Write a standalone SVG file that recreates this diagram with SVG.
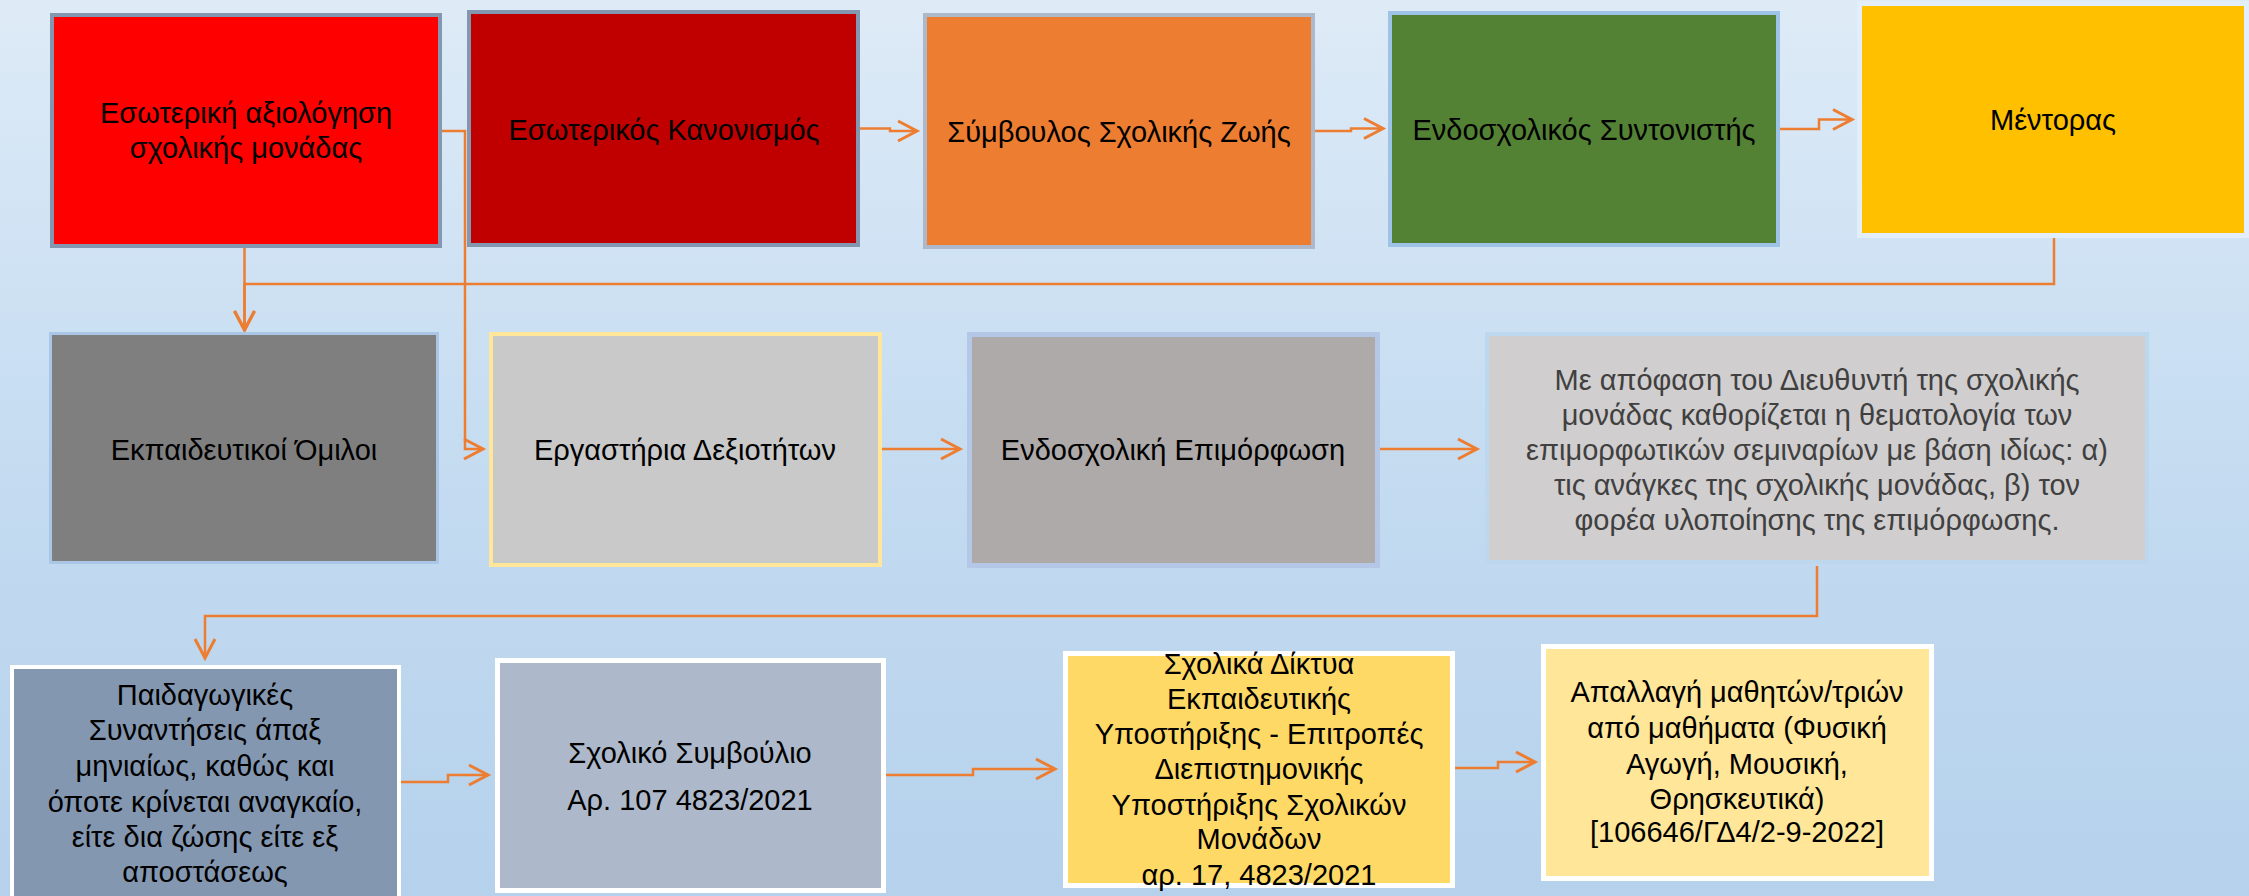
<svg xmlns="http://www.w3.org/2000/svg" width="2249" height="896" viewBox="0 0 2249 896">
<defs>
<linearGradient id="bg" x1="0" y1="0" x2="0" y2="1">
<stop offset="0" stop-color="#DEEBF7"/>
<stop offset="0.5" stop-color="#C5DCF1"/>
<stop offset="1" stop-color="#B5D1EC"/>
</linearGradient>
<marker id="ah" markerUnits="userSpaceOnUse" viewBox="-22 -12 24 24" markerWidth="24" markerHeight="24" refX="0" refY="0" orient="auto" overflow="visible">
<path d="M-19,-10 L0,0 L-19,10" fill="none" stroke="#ED7D31" stroke-width="3"/>
</marker>
</defs>
<style>
text{font-family:"Liberation Sans",Arial,sans-serif;font-size:29px;fill:#000;text-anchor:middle}
.g{fill:#404040}
.c{fill:none;stroke:#ED7D31;stroke-width:2.5;marker-end:url(#ah)}
.n{stroke-width:4}
</style>
<rect x="0" y="0" width="2249" height="896" fill="url(#bg)"/>

<g id="connectors">
<path class="c" d="M442,131 H465 V449 H483"/>
<path class="c" d="M244.5,248 V330"/>
<path class="c" d="M2054,238 V284 H244.5 V330"/>
<path class="c" d="M860,128.5 H890 V131 H917"/>
<path class="c" d="M1315,131 H1351 V128.5 H1383"/>
<path class="c" d="M1780,129 H1819 V119.5 H1852"/>
<path class="c" d="M882,449 H960"/>
<path class="c" d="M1380,449 H1477"/>
<path class="c" d="M1817,566 V616 H205 V658"/>
<path class="c" d="M401,782 H448 V775 H488"/>
<path class="c" d="M886,775 H973 V769 H1055"/>
<path class="c" d="M1455,768 H1498 V762 H1535"/>
</g>

<g id="n1">
<rect class="n" x="52" y="15" width="388" height="231" fill="#FF0000" stroke="#8497B0"/>
<text x="246" y="123">Εσωτερική αξιολόγηση</text>
<text x="246" y="158">σχολικής μονάδας</text>
</g>
<g id="n2">
<rect class="n" x="469" y="12" width="389" height="233" fill="#C00000" stroke="#8497B0"/>
<text x="664" y="140">Εσωτερικός Κανονισμός</text>
</g>
<g id="n3">
<rect class="n" x="925" y="15" width="388" height="232" fill="#ED7D31" stroke="#ADB9CA"/>
<text x="1119" y="142">Σύμβουλος Σχολικής Ζωής</text>
</g>
<g id="n4">
<rect class="n" x="1390" y="13" width="388" height="232" fill="#548235" stroke="#9DC3E6"/>
<text x="1584" y="140">Ενδοσχολικός Συντονιστής</text>
</g>
<g id="n5">
<rect x="1859.5" y="3.5" width="387" height="232" fill="#FFC000" stroke="#E2EEF9" stroke-width="5"/>
<text x="2053" y="130">Μέντορας</text>
</g>

<g id="n6">
<rect x="50.5" y="333.5" width="387" height="229" fill="#7F7F7F" stroke="#A9C6E6" stroke-width="3"/>
<text x="244" y="460">Εκπαιδευτικοί Όμιλοι</text>
</g>
<g id="n7">
<rect class="n" x="491" y="334" width="389" height="231" fill="#C9C9C9" stroke="#FFE699"/>
<text x="685" y="460">Εργαστήρια Δεξιοτήτων</text>
</g>
<g id="n8">
<rect x="969.5" y="334.5" width="408" height="231" fill="#AEAAAA" stroke="#B4C7E7" stroke-width="5"/>
<text x="1173" y="460">Ενδοσχολική Επιμόρφωση</text>
</g>
<g id="n9">
<rect class="n" x="1487" y="334" width="660" height="228" fill="#D0CECE" stroke="#BDD7EE"/>
<text class="g" x="1817" y="390">Με απόφαση του Διευθυντή της σχολικής</text>
<text class="g" x="1817" y="425">μονάδας καθορίζεται η θεματολογία των</text>
<text class="g" x="1817" y="460">επιμορφωτικών σεμιναρίων με βάση ιδίως: α)</text>
<text class="g" x="1817" y="495">τις ανάγκες της σχολικής μονάδας, β) τον</text>
<text class="g" x="1817" y="530">φορέα υλοποίησης της επιμόρφωσης.</text>
</g>

<g id="n10">
<rect class="n" x="12" y="667" width="387" height="240" fill="#8497B0" stroke="#FFFFFF"/>
<text x="205" y="705">Παιδαγωγικές</text>
<text x="205" y="740">Συναντήσεις άπαξ</text>
<text x="205" y="776">μηνιαίως, καθώς και</text>
<text x="205" y="812">όποτε κρίνεται αναγκαίο,</text>
<text x="205" y="847">είτε δια ζώσης είτε εξ</text>
<text x="205" y="882">αποστάσεως</text>
</g>
<g id="n11">
<rect x="497.5" y="660.5" width="386" height="230" fill="#ADB9CA" stroke="#FFFFFF" stroke-width="5"/>
<text x="690" y="763">Σχολικό Συμβούλιο</text>
<text x="690" y="810">Αρ. 107 4823/2021</text>
</g>
<g id="n12">
<rect x="1065.5" y="653.5" width="387" height="232" fill="#FFD966" stroke="#FFFFFF" stroke-width="5"/>
<text x="1259" y="674">Σχολικά Δίκτυα</text>
<text x="1259" y="709">Εκπαιδευτικής</text>
<text x="1259" y="744">Υποστήριξης - Επιτροπές</text>
<text x="1259" y="779">Διεπιστημονικής</text>
<text x="1259" y="815">Υποστήριξης Σχολικών</text>
<text x="1259" y="849">Μονάδων</text>
<text x="1259" y="885">αρ. 17, 4823/2021</text>
</g>
<g id="n13">
<rect x="1543.5" y="646.5" width="388" height="232" fill="#FFE699" stroke="#FFFFFF" stroke-width="5"/>
<text x="1737" y="702">Απαλλαγή μαθητών/τριών</text>
<text x="1737" y="738">από μαθήματα (Φυσική</text>
<text x="1737" y="774">Αγωγή, Μουσική,</text>
<text x="1737" y="809">Θρησκευτικά)</text>
<text x="1737" y="842">[106646/ΓΔ4/2-9-2022]</text>
</g>
</svg>
